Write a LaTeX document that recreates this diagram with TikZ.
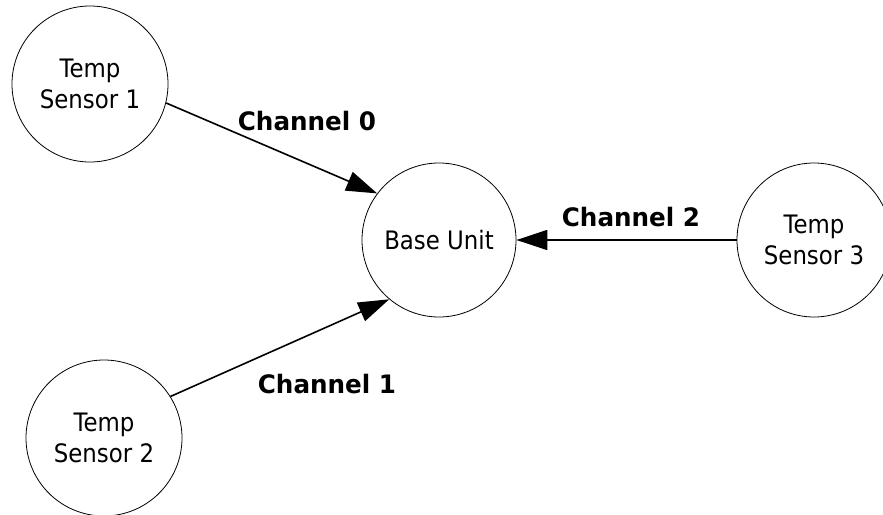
\documentclass[tikz,border=0pt]{standalone}
\usepackage{fontspec}
\setmainfont{DejaVu Sans}[FakeStretch=0.9,BoldFeatures={FakeStretch=0.97}]
\usetikzlibrary{arrows.meta}
\tikzset{
  sensor/.style={circle,draw=black,line width=0.8pt,inner sep=0pt,minimum size=156pt,
    align=center,font=\fontsize{25.4}{31}\selectfont},
  link/.style={line width=1.6pt,-{Triangle[length=31pt,width=20pt]}},
  chan/.style={font=\fontsize{25.4}{31}\selectfont\bfseries,anchor=base,inner sep=0pt}
}
\begin{document}
\begin{tikzpicture}[x=1pt,y=-1pt]
\useasboundingbox (0,0) rectangle (883,514);
\node[sensor] (s1) at (90,84) {Temp\\Sensor 1};
\node[sensor,minimum size=154pt] (base) at (439,240) {Base Unit};
\node[sensor,minimum size=154pt] (s3) at (814,240) {Temp\\Sensor 3};
\node[sensor] (s2) at (104,438) {Temp\\Sensor 2};
\draw[link] (s1.-14) -- (base.143.7);
\draw[link] (s2.32.5) -- (base.230);
\draw[link] (s3.180) -- (base.0);
\node[chan] (c0) at (307,130) {Channel 0};
\node[chan] (c1) at (327,393) {Channel 1};
\node[chan] (c2) at (631,226) {Channel 2};
\end{tikzpicture}
\end{document}
